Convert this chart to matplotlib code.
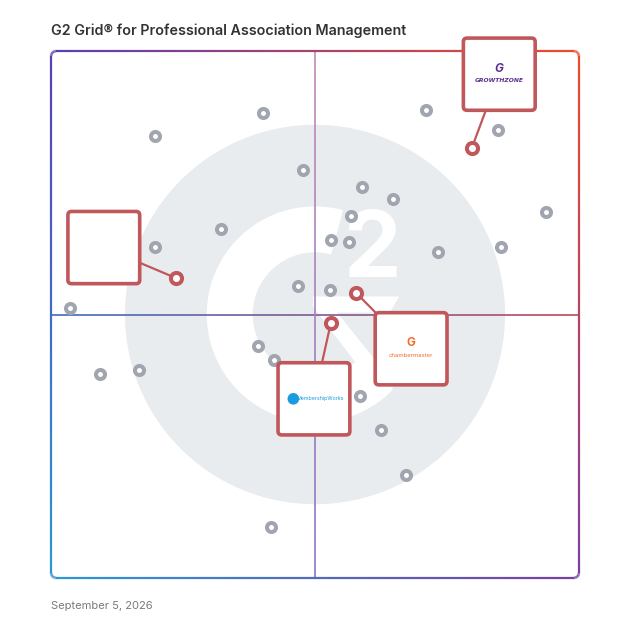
import numpy as np
import matplotlib
matplotlib.use("Agg")
import matplotlib.pyplot as plt
from matplotlib.collections import LineCollection
from matplotlib.patches import Circle, Wedge, Polygon, FancyBboxPatch
from matplotlib.colors import to_rgb

# satisfaction (x) / market presence (y) scores, 0-100
other_x = [40.2, 71.0, 84.7, 19.7, 47.7, 58.9, 64.8, 56.8, 32.2, 93.8, 53.0, 56.4, 19.7,
           73.3, 85.2, 46.8, 52.8, 3.6, 39.2, 42.2, 9.3, 16.7, 58.5, 62.5, 67.2, 41.7]
other_y = [88.2, 88.8, 85.0, 83.9, 77.4, 74.2, 71.9, 68.7, 66.2, 69.4, 64.1, 63.8, 62.8,
           61.9, 62.8, 55.4, 54.6, 51.2, 44.0, 41.4, 38.7, 39.5, 34.5, 28.1, 19.5, 9.7]

products = ["GrowthZone", "", "chambermaster", "MembershipWorks"]
product_x = [79.7, 23.7, 57.8, 53.0]
product_y = [81.6, 56.9, 54.1, 48.4]

title = "G2 Grid\u00ae for Professional Association Management"
date_label = "September 5, 2026"

# where each callout box sits, relative to its point
callout_dx = [5.2, -13.7, 10.4, -3.2]
callout_dy = [14.0, 5.8, -10.6, -14.4]

RED = "#c0575b"
GREY = "#a1a5b0"
PXX, PXY = 5.28, 5.27  # pixels per data unit


def mix(c1, c2, t):
    a, b = np.array(to_rgb(c1)), np.array(to_rgb(c2))
    return a + (b - a) * t


def corner_color(x, y):
    u, v = x / 100.0, y / 100.0
    top = mix("#5a3fb2", "#f24a28", u)
    bot = mix("#2b97d9", "#7a3fa2", u)
    return np.clip(bot + (top - bot) * v, 0, 1)


def round_rect(x0, y0, x1, y1, r, k=10):
    pts = []
    corners = [(x1 - r, y1 - r, 0, 90), (x0 + r, y1 - r, 90, 180),
               (x0 + r, y0 + r, 180, 270), (x1 - r, y0 + r, 270, 360)]
    for cx, cy, a0, a1 in corners:
        for a in np.linspace(np.radians(a0), np.radians(a1), k):
            pts.append((cx + r * np.cos(a), cy + r * np.sin(a)))
    pts.append(pts[0])
    dense = []
    for p, q in zip(pts[:-1], pts[1:]):
        for t in np.linspace(0, 1, 30, endpoint=False):
            dense.append((p[0] + (q[0] - p[0]) * t, p[1] + (q[1] - p[1]) * t))
    dense.append(pts[0])
    return np.array(dense)


def gradient_line(ax, xs, ys, colors, lw, zorder):
    pts = np.column_stack([xs, ys])
    segs = np.stack([pts[:-1], pts[1:]], axis=1)
    lc = LineCollection(segs, colors=colors, linewidths=lw, zorder=zorder,
                        capstyle="butt", joinstyle="round", clip_on=False)
    ax.add_collection(lc)


fig = plt.figure(figsize=(6.28, 6.28), dpi=100)
ax = fig.add_axes([51 / 628, 50 / 628, 528 / 628, 527 / 628])
ax.set_xlim(0, 100)
ax.set_ylim(0, 100)
ax.axis("off")

# G2 watermark
ax.add_patch(Circle((50, 50), 36.0, color="#e9ecef", zorder=0, lw=0))
ax.add_patch(Wedge((50, 50), 20.5, 75, 316, width=8.7, color="white", zorder=0.5, lw=0))
chev = [(-2, 18), (84, 18), (75, 2), (22, 2), (80, -70), (68, -84), (-2, 8)]
ax.add_patch(Polygon([(50 + a / PXX, 50 + b / PXY) for a, b in chev],
                     closed=True, color="white", zorder=0.5, lw=0))
ax.text(50 + 57 / PXX, 50 + 61 / PXY, "2", fontsize=66, fontweight="bold",
        family="Inter", color="white", ha="center", va="center", zorder=0.6)

# quadrant lines
t = np.linspace(0, 100, 200)
gradient_line(ax, t, np.full_like(t, 50),
              [mix("#3a6cc2", "#c2475a", v / 100) for v in t[:-1]], 1.2, 1)
gradient_line(ax, np.full_like(t, 50), t,
              [mix("#8a76c6", "#c48ab6", v / 100) for v in t[:-1]], 1.2, 1)

# outer frame
rr = round_rect(0, 0, 100, 100, 1.0)
mids = (rr[:-1] + rr[1:]) / 2
gradient_line(ax, rr[:, 0], rr[:, 1], [corner_color(x, y) for x, y in mids], 1.6, 5)

# other products
ax.plot(other_x, other_y, "o", ms=6.5, mew=2.9, mfc="white", mec=GREY,
        ls="none", zorder=3)

# highlighted products with callouts
box_w, box_h = 13.6, 13.7
for name, x, y, dx, dy in zip(products, product_x, product_y, callout_dx, callout_dy):
    bx, by = x + dx, y + dy
    ax.plot([x, bx], [y, by], color=RED, lw=1.6, zorder=4, solid_capstyle="butt")
    ax.add_patch(FancyBboxPatch((bx - box_w / 2, by - box_h / 2), box_w, box_h,
                                boxstyle="round,pad=0,rounding_size=0.7",
                                fc="white", ec=RED, lw=2.6, zorder=6, clip_on=False))
    if name == "GrowthZone":
        ax.text(bx, by + 1.0, "G", color="#5b2f93", fontsize=8.5, fontweight="bold",
                ha="center", va="center", zorder=7, family="Inter", style="italic")
        ax.text(bx, by - 1.2, "GROWTHZONE", color="#5b2f93", fontsize=4.3,
                fontweight="bold", style="italic", ha="center", va="center", zorder=7)
    elif name == "chambermaster":
        ax.text(bx, by + 1.0, "G", color="#f26b2a", fontsize=8.5, fontweight="bold",
                ha="center", va="center", zorder=7, family="Inter")
        ax.text(bx, by - 1.3, "chambermaster", color="#f26b2a", fontsize=4.3,
                ha="center", va="center", zorder=7, family="Inter")
    elif name == "MembershipWorks":
        ax.add_patch(Circle((bx - 3.9, by), 1.1, color="#1b9be0", zorder=7, lw=0))
        ax.text(bx + 1.1, by, "MembershipWorks", color="#1b9be0", fontsize=3.8,
                ha="center", va="center", zorder=7, family="Inter")
    ax.plot([x], [y], "o", ms=8.0, mew=2.9, mfc="white", mec=RED, zorder=8,
            clip_on=False)

fig.text(51 / 628, 1 - 35 / 628, title, fontsize=10.3, fontweight="semibold",
         family="Inter", color="#333333", ha="left", va="baseline")
fig.text(51 / 628, 1 - 609 / 628, date_label, fontsize=8, family="Inter",
         color="#7a7a7a", ha="left", va="baseline")

fig.savefig("out.png", dpi=100, facecolor="white")
